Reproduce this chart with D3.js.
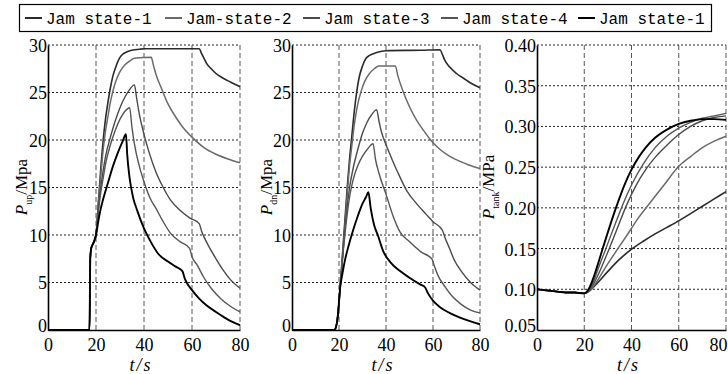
<!DOCTYPE html>
<html>
<head>
<meta charset="utf-8">
<script src="https://cdn.jsdelivr.net/npm/d3@7"></script>
<style>
  body { margin: 0; background: #fff; }
  svg { display: block; }
</style>
</head>
<body>
<svg id="chart" width="728" height="374"></svg>
<script>
// data
const legendLabels = ['Jam state-1', 'Jam-state-2', 'Jam state-3', 'Jam state-4', 'Jam state-1'];
const xTicks = [0, 20, 40, 60, 80];
const pTicks = [0, 5, 10, 15, 20, 25, 30];
const tankTicks = [0.05, 0.10, 0.15, 0.20, 0.25, 0.30, 0.35, 0.40];

// upstream pressure P_up (t, MPa)
const upStart = [[0, 0], [17.3, 0], [17.6, 7.5], [18, 8.6], [19, 9.2], [20, 10]];
const upA = [[21, 13.5], [22, 17], [23, 20], [24, 22.3], [25, 24], [26, 25.5], [27, 26.7], [28, 27.5], [29, 28.2], [30, 28.7], [31, 29], [33, 29.3], [35, 29.45], [38, 29.55], [40, 29.6], [63, 29.6], [64, 29.1], [65, 28.6], [66, 28.1], [68, 27.5], [70, 27], [73, 26.5], [76, 26.1], [80, 25.6]];
const upB = [[21, 13.2], [22, 16.3], [23, 19], [24, 21], [25, 22.5], [26, 24], [27, 25.1], [28, 26], [30, 27.2], [32, 27.9], [34, 28.3], [36, 28.6], [43, 28.7], [44, 27.8], [45, 26.9], [47, 25.6], [50, 23.8], [53, 22.5], [56, 21.4], [60, 20.3], [65, 19.2], [70, 18.5], [75, 18], [80, 17.6]];
const upC = [[21, 12.8], [22, 15], [23, 16.8], [24, 18.3], [26, 20.3], [28, 22], [30, 23.4], [32, 24.5], [34, 25.3], [36, 25.8], [37, 24.3], [38, 22.8], [40, 20.6], [42, 18.8], [45, 16.6], [48, 15], [51, 13.7], [55, 12.6], [59, 11.8], [63, 11.2], [64, 10.4], [65, 9.8], [67, 8.8], [70, 7.5], [73, 6.3], [76, 5.3], [80, 4.4]];
const upD = [[21, 12.5], [22, 14.5], [23, 16], [24, 17.5], [26, 19.5], [28, 21], [30, 22.2], [32, 23], [34, 23.4], [35, 21.3], [36, 19.6], [38, 17.3], [40, 15.6], [42.5, 13.9], [45, 12.8], [48, 11.4], [51, 10.2], [55, 9.3], [59, 8.6], [60, 7.7], [62, 6.9], [65, 5.5], [68, 4.4], [72, 3.3], [76, 2.5], [80, 1.9]];
const upE = [[21, 11.5], [22, 12.8], [23, 13.8], [25, 15.5], [27, 17.2], [29, 18.6], [31, 19.8], [32.5, 20.6], [33, 18.5], [34, 16], [35.5, 13.9], [37, 12.7], [40, 10.7], [43, 9.2], [46, 8], [50, 7.2], [53, 6.7], [56, 6.2], [57, 5.4], [58, 4.9], [60, 4.2], [63, 3.3], [66, 2.6], [70, 1.9], [75, 1.1], [80, 0.5]];

// downstream pressure P_dn (t, MPa)
const dnStart = [[0, 0], [18, 0], [18.7, 0.3], [19.5, 1.5], [20.5, 4.5]];
const dnA = [[21.5, 8], [22.5, 11.5], [23.5, 15], [24.5, 18], [25.5, 20.5], [26.5, 23], [27.5, 25], [28.5, 26.5], [30, 27.8], [31.5, 28.6], [33, 28.9], [36, 29.2], [40, 29.4], [55, 29.45], [63, 29.5], [64, 29], [65, 28.4], [67, 27.7], [70, 27], [73, 26.5], [76, 26], [80, 25.5]];
const dnB = [[21.5, 7.8], [22.5, 11], [23.5, 14.3], [24.5, 17.3], [25.5, 19.5], [26.5, 21.6], [28, 23.8], [29.5, 25.2], [31, 26.2], [33, 27], [35, 27.5], [37, 27.8], [44, 27.8], [45, 26.8], [47, 25.3], [50, 23.5], [53, 22.1], [56, 21], [59, 20], [63, 19], [67, 18.3], [71, 17.8], [75, 17.4], [80, 17]];
const dnC = [[21.5, 7.5], [22.5, 10.5], [23.5, 13], [24.5, 15], [26, 17], [28, 19], [30, 20.7], [32, 21.9], [34, 22.7], [36, 23.2], [37, 22], [38, 20.9], [40, 19.5], [42, 18.3], [45, 16.6], [49, 14.6], [53, 13.3], [57, 12.2], [60, 11.4], [64, 10.5], [65, 9.8], [67, 8.6], [69, 7.4], [72, 6.2], [76, 5], [80, 4.2]];
const dnD = [[21.5, 7.5], [22.5, 10], [23.5, 12.2], [24.5, 14], [26, 15.8], [28, 17.3], [30, 18.3], [32, 19], [34.5, 19.6], [35.5, 18], [37, 16.5], [40, 14.3], [43, 12], [46, 10.3], [50, 9.3], [55, 8.2], [59.5, 7.5], [60.5, 6.8], [62, 5.8], [65, 4.6], [68, 3.6], [72, 2.7], [76, 2.1], [80, 1.8]];
const dnE = [[21.5, 6], [22.5, 7.3], [24, 8.8], [26, 10.5], [28, 12], [30, 13.3], [31.5, 14], [32.5, 14.5], [33.5, 12.8], [35, 11], [36.5, 10], [38.8, 8.3], [42, 7.1], [46, 6.2], [50, 5.5], [54.5, 4.8], [56.6, 4.5], [58, 3.8], [60, 3.1], [63, 2.4], [67, 1.8], [71.5, 1.3], [76, 0.9], [80, 0.6]];

// tank pressure P_tank (t, MPa)
const tankStart = [[0, 0.100], [3, 0.099], [6, 0.098], [9, 0.097], [12, 0.096], [16, 0.096], [20, 0.095]];
const tankA = [[22.5, 0.099], [25, 0.106], [30, 0.122], [35, 0.137], [39.5, 0.148], [45, 0.159], [50, 0.168], [55, 0.176], [60.5, 0.185], [65, 0.193], [70, 0.202], [75, 0.211], [80, 0.22]];
const tankB = [[22, 0.097], [25, 0.108], [29, 0.127], [33.8, 0.148], [38, 0.166], [43, 0.188], [48.6, 0.209], [54, 0.229], [60, 0.251], [65, 0.263], [70, 0.274], [75, 0.282], [80, 0.288]];
const tankC = [[22, 0.098], [24, 0.107], [27, 0.125], [30.3, 0.148], [34, 0.175], [38, 0.204], [42, 0.228], [46, 0.247], [50, 0.262], [55, 0.277], [60, 0.29], [65, 0.3], [70, 0.307], [75, 0.311], [80, 0.313]];
const tankD = [[22, 0.099], [24, 0.11], [26, 0.126], [28.9, 0.148], [32, 0.172], [34, 0.187], [36.6, 0.206], [40, 0.228], [45, 0.254], [50, 0.274], [55, 0.288], [60, 0.298], [65, 0.305], [70, 0.31], [75, 0.313], [80, 0.316]];
const tankE = [[22, 0.101], [24, 0.115], [26, 0.133], [28, 0.152], [30, 0.17], [32, 0.188], [34.4, 0.208], [37, 0.228], [40, 0.247], [43, 0.262], [46, 0.274], [50, 0.286], [55, 0.296], [60, 0.303], [65, 0.307], [70, 0.309], [75, 0.309], [80, 0.308]];

const seriesColor = ['#2a2a2a', '#6a6a6a', '#4a4a4a', '#555', '#000'];
const seriesWidth = [1.6, 1.5, 1.4, 1.4, 1.9];

const svg = d3.select('#chart');
const serif = 'Liberation Serif, DejaVu Serif, serif';

// legend
const legendX = [25, 165, 303, 441, 578];
svg.append('rect')
  .attr('x', 19.5).attr('y', 4.5).attr('width', 692).attr('height', 27)
  .attr('fill', 'none').attr('stroke', '#000').attr('stroke-width', 1.2);
const legend = svg.append('g').selectAll('g').data(legendLabels).enter().append('g');
legend.append('line')
  .attr('x1', (d, i) => legendX[i]).attr('x2', (d, i) => legendX[i] + 17)
  .attr('y1', 18).attr('y2', 18)
  .attr('stroke', (d, i) => seriesColor[i]).attr('stroke-width', 2);
legend.append('text')
  .attr('x', (d, i) => legendX[i] + 21).attr('y', 24)
  .style('font-family', 'Liberation Mono, DejaVu Sans Mono, monospace')
  .style('font-size', '16px').attr('fill', '#000')
  .text((d) => d);

function panel(cfg) {
  const x = d3.scaleLinear().domain([0, 80]).range([cfg.left, cfg.right]);
  const y = d3.scaleLinear().domain(cfg.yDomain).range([330, 45]);
  const g = svg.append('g');

  // grid
  g.append('g').selectAll('line').data(cfg.yTicks.slice(1)).enter().append('line')
    .attr('x1', cfg.left).attr('x2', cfg.right)
    .attr('y1', (d) => y(d)).attr('y2', (d) => y(d))
    .attr('stroke', '#222').attr('stroke-width', 1).attr('stroke-dasharray', '2,2');
  g.append('g').selectAll('line').data(xTicks.slice(1)).enter().append('line')
    .attr('x1', (d) => x(d)).attr('x2', (d) => x(d))
    .attr('y1', 45).attr('y2', 330)
    .attr('stroke', '#555').attr('stroke-width', 1).attr('stroke-dasharray', '5,3');

  // curves
  const line = d3.line().x((d) => x(d[0])).y((d) => y(d[1])).curve(d3.curveMonotoneX);
  g.append('g').selectAll('path').data(cfg.series).enter().append('path')
    .attr('d', (d) => line(cfg.start.concat(d)))
    .attr('fill', 'none')
    .attr('stroke', (d, i) => seriesColor[i])
    .attr('stroke-width', (d, i) => seriesWidth[i])
    .attr('stroke-linejoin', 'round');

  // axes
  const xAxis = g.append('g').attr('transform', 'translate(0,330)')
    .call(d3.axisBottom(x).tickValues(xTicks).tickSize(0).tickPadding(8));
  const yAxis = g.append('g').attr('transform', `translate(${cfg.left},0)`)
    .call(d3.axisLeft(y).tickValues(cfg.yTicks).tickFormat(cfg.fmt).tickSize(0).tickPadding(1));
  [xAxis, yAxis].forEach((a) => {
    a.attr('font-family', null).attr('font-size', null);
    a.select('.domain').attr('stroke', '#000').attr('stroke-width', 1.6);
    a.selectAll('text').style('font-family', serif).style('font-size', '18px').attr('fill', '#000');
  });
  yAxis.selectAll('text').attr('dy', (d, i) => (i === 0 ? '0.1em' : '0.36em'));
  if (cfg.right > 720) xAxis.selectAll('.tick:last-of-type text').attr('dx', -8);

  // axis titles
  g.append('text')
    .attr('x', (cfg.left + cfg.right) / 2 - 3).attr('y', 371)
    .attr('text-anchor', 'middle')
    .style('font-family', serif).style('font-size', '18px').style('font-style', 'italic')
    .attr('letter-spacing', 2)
    .text('t/s');
  const yl = g.append('text')
    .attr('transform', `translate(${cfg.labelX},187) rotate(-90)`)
    .attr('text-anchor', 'middle')
    .style('font-family', serif).style('font-size', '17px').attr('fill', '#000');
  yl.append('tspan').style('font-style', 'italic').text('P');
  yl.append('tspan').style('font-size', '10px').attr('dy', '0.45em').text(cfg.sub);
  yl.append('tspan').attr('dy', '-0.27em').text(cfg.unit);
}

panel({ left: 48, right: 240, yDomain: [0, 30], yTicks: pTicks, fmt: d3.format('d'),
  start: upStart, series: [upA, upB, upC, upD, upE], labelX: 27, sub: 'up', unit: '/Mpa' });
panel({ left: 292, right: 480, yDomain: [0, 30], yTicks: pTicks, fmt: d3.format('d'),
  start: dnStart, series: [dnA, dnB, dnC, dnD, dnE], labelX: 272, sub: 'dn', unit: '/Mpa' });
panel({ left: 537, right: 726, yDomain: [0.05, 0.40], yTicks: tankTicks, fmt: d3.format('.2f'),
  start: tankStart, series: [tankA, tankB, tankC, tankD, tankE], labelX: 494, sub: 'tank', unit: '/MPa' });
</script>
</body>
</html>
